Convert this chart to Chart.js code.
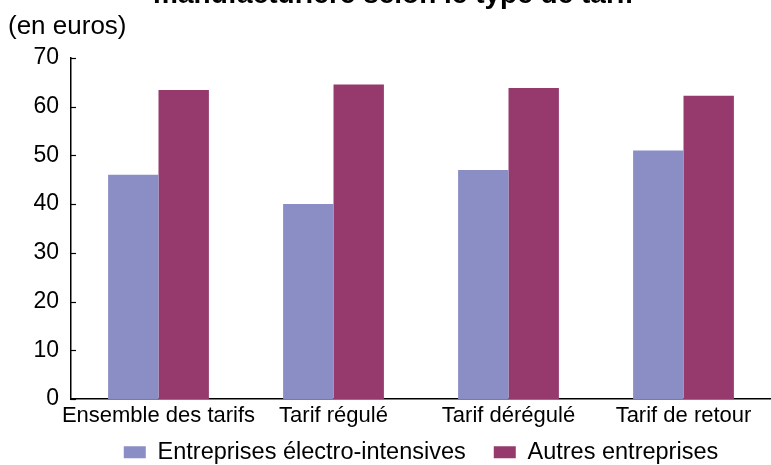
<!DOCTYPE html>
<html>
<head>
<meta charset="utf-8">
<script src="https://cdn.jsdelivr.net/npm/chart.js@4.4.1/dist/chart.umd.min.js"></script>
<style>
html,body{margin:0;padding:0;background:#fff;}
#wrap{width:771px;height:465px;position:relative;}
</style>
</head>
<body>
<div id="wrap"><canvas id="c"></canvas></div>
<script>
const categories = ["Ensemble des tarifs", "Tarif régulé", "Tarif dérégulé", "Tarif de retour"];
const seriesNames = ["Entreprises électro-intensives", "Autres entreprises"];
const electroIntensives = [46, 40, 47, 51];
const autresEntreprises = [63.4, 64.5, 63.8, 62.2];
const yTicks = [0, 10, 20, 30, 40, 50, 60, 70];
const titleText = "manufacturière selon le type de tarif";
const unitText = "(en euros)";

const FONT = "'Liberation Sans', Arial, sans-serif";

const innerTicks = {
  id: 'innerTicks',
  afterDatasetsDraw(chart) {
    const y = chart.scales.y;
    const ctx = chart.ctx;
    ctx.save();
    ctx.strokeStyle = '#000';
    ctx.lineWidth = 1.2;
    yTicks.forEach(v => {
      const py = Math.round(y.getPixelForValue(v)) + 0.5;
      ctx.beginPath();
      ctx.moveTo(chart.chartArea.left, py);
      ctx.lineTo(chart.chartArea.left + 5, py);
      ctx.stroke();
    });
    ctx.restore();
  }
};

// centre the legend under the plot area and tuck it closer to the axis labels
const legendUnderPlot = {
  id: 'legendUnderPlot',
  afterLayout(chart) {
    const lg = chart.legend;
    if (!lg) return;
    lg.left = chart.chartArea.left;
    lg.right = chart.chartArea.right;
    lg.width = lg.right - lg.left;
    lg.top = chart.scales.x.bottom - 21;
    lg.bottom = lg.top + lg.height;
  }
};

new Chart(document.getElementById('c'), {
  type: 'bar',
  data: {
    labels: categories,
    datasets: [
      { label: seriesNames[0], data: electroIntensives, backgroundColor: '#8a8ec4', borderWidth: 0 },
      { label: seriesNames[1], data: autresEntreprises, backgroundColor: '#963a6d', borderWidth: 0 }
    ]
  },
  options: {
    responsive: true,
    maintainAspectRatio: false,
    animation: false,
    layout: { padding: { left: 8, right: -8, top: 0, bottom: -30 } },
    datasets: { bar: { categoryPercentage: 0.576, barPercentage: 1.0 } },
    plugins: {
      title: {
        display: true,
        text: titleText,
        color: '#000',
        font: { family: FONT, size: 28, weight: 'bold' },
        padding: { top: -22, bottom: 0 }
      },
      subtitle: {
        display: true,
        text: unitText,
        align: 'start',
        color: '#000',
        font: { family: FONT, size: 26 },
        padding: { top: 0, bottom: 15 }
      },
      legend: {
        position: 'bottom',
        labels: {
          color: '#000',
          font: { family: FONT, size: 23.5 },
          boxWidth: 22,
          boxHeight: 12,
          padding: 28
        }
      },
      tooltip: { enabled: false }
    },
    scales: {
      x: {
        grid: { display: false, drawTicks: false },
        border: { display: true, color: '#000', width: 1.5 },
        ticks: { color: '#000', font: { family: FONT, size: 22 }, padding: 4, maxRotation: 0, autoSkip: false }
      },
      y: {
        min: 0,
        max: 70,
        grid: { display: false, drawTicks: false },
        border: { display: true, color: '#000', width: 1.5 },
        afterBuildTicks(axis) { axis.ticks = yTicks.map(v => ({ value: v })); },
        ticks: { color: '#000', font: { family: FONT, size: 23 }, padding: 12 },
        afterFit(axis) { axis.width = 63; }
      }
    }
  },
  plugins: [innerTicks, legendUnderPlot]
});
</script>
</body>
</html>
